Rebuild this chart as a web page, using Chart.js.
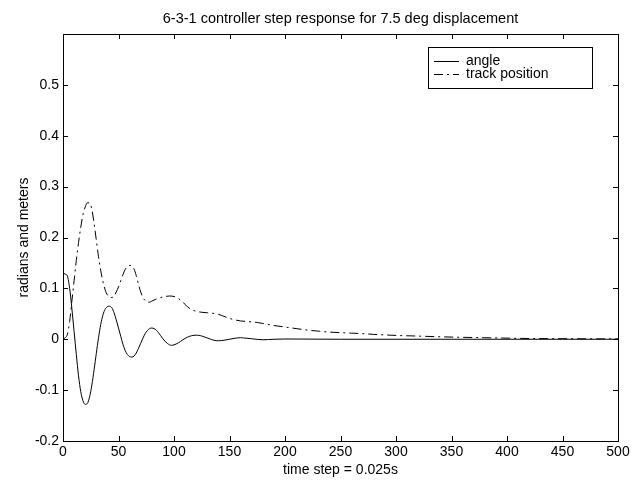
<!DOCTYPE html>
<html>
<head>
<meta charset="utf-8">
<script src="https://cdn.jsdelivr.net/npm/chart.js@4"></script>
<style>
html,body{margin:0;padding:0;background:#fff;}
#wrap{width:635px;height:480px;position:relative;}
</style>
</head>
<body>
<div id="wrap"><canvas id="c" width="635" height="480"></canvas></div>
<script>
const chartTitle = "6-3-1 controller step response for 7.5 deg displacement";
const xAxisLabel = "time step = 0.025s";
const yAxisLabel = "radians and meters";
const seriesLabels = ["angle", "track position"];

const angleSteps = [0,2,4,6,8,10,12,14,16,18,20,22,24,26,28,30,32,34,36,38,40,42,44,46,48,50,52,54,56,58,60,62,64,66,68,70,72,74,76,78,80,82,84,86,88,90,92,94,96,98,100,104,108,112,116,120,124,128,132,136,140,145,150,155,160,165,170,180,190,200,250,300,350,400,450,500];
const angleValues = [0.13,0.128,0.124,0.10,0.06,0.015,-0.03,-0.072,-0.103,-0.121,-0.128,-0.126,-0.113,-0.09,-0.06,-0.028,0.003,0.029,0.048,0.059,0.064,0.065,0.062,0.052,0.038,0.022,0.006,-0.01,-0.022,-0.03,-0.034,-0.035,-0.033,-0.027,-0.018,-0.008,0.002,0.011,0.017,0.021,0.022,0.021,0.018,0.013,0.007,0.001,-0.004,-0.008,-0.011,-0.012,-0.011,-0.007,-0.001,0.004,0.007,0.008,0.007,0.004,0.001,-0.002,-0.003,-0.002,0.0,0.002,0.003,0.002,0.001,-0.001,0.0,0.0005,0.0,0.0,0.0,0.0,0.0,0.0];

const trackSteps = [0,2,4,6,8,10,12,14,16,18,20,22,24,26,28,30,32,34,36,38,40,42,44,46,48,50,52,54,56,58,60,62,64,66,68,70,72,74,76,78,80,84,88,92,96,100,104,108,112,116,120,125,130,135,140,145,150,155,160,165,170,175,180,190,200,210,220,230,240,250,260,270,280,290,300,320,340,360,380,400,420,440,460,480,500];
const trackValues = [0.0,0.003,0.01,0.035,0.075,0.115,0.155,0.19,0.22,0.245,0.26,0.268,0.268,0.255,0.228,0.195,0.162,0.135,0.113,0.097,0.087,0.083,0.082,0.085,0.093,0.103,0.115,0.127,0.137,0.143,0.145,0.144,0.138,0.125,0.108,0.093,0.082,0.076,0.073,0.073,0.075,0.079,0.082,0.084,0.085,0.084,0.080,0.073,0.064,0.058,0.055,0.053,0.052,0.051,0.049,0.045,0.041,0.038,0.036,0.035,0.034,0.033,0.031,0.027,0.024,0.021,0.018,0.016,0.014,0.013,0.012,0.011,0.0095,0.0085,0.0075,0.0062,0.0048,0.0038,0.003,0.0022,0.0015,0.0012,0.001,0.0008,0.0006];

const xTickValues = [0,50,100,150,200,250,300,350,400,450,500];
const yTickValues = [-0.2,-0.1,0,0.1,0.2,0.3,0.4,0.5];

const FONT = "'Liberation Sans', Arial, sans-serif";

const angleData = angleSteps.map((x,i)=>({x:x,y:angleValues[i]}));
const trackData = trackSteps.map((x,i)=>({x:x,y:trackValues[i]}));

const framePlugin = {
  id:'frame',
  afterDraw(chart){
    const {ctx, chartArea:a, scales} = chart;
    ctx.save();
    ctx.strokeStyle = '#000';
    ctx.lineWidth = 1;
    ctx.strokeRect(Math.round(a.left)+0.5, Math.round(a.top)+0.5, Math.round(a.right-a.left), Math.round(a.bottom-a.top));
    const tl = 5;
    ctx.beginPath();
    xTickValues.forEach(v=>{
      const px = Math.round(scales.x.getPixelForValue(v))+0.5;
      ctx.moveTo(px, a.bottom); ctx.lineTo(px, a.bottom-tl);
      ctx.moveTo(px, a.top); ctx.lineTo(px, a.top+tl);
    });
    yTickValues.forEach(v=>{
      const py = Math.round(scales.y.getPixelForValue(v))+0.5;
      ctx.moveTo(a.left, py); ctx.lineTo(a.left+tl, py);
      ctx.moveTo(a.right, py); ctx.lineTo(a.right-tl, py);
    });
    ctx.stroke();
    ctx.fillStyle = '#000';
    ctx.font = '14.5px ' + FONT;
    ctx.textAlign = 'center';
    ctx.textBaseline = 'alphabetic';
    ctx.fillText(chartTitle, (a.left+a.right)/2, 23);
    const lx = 428, ly = 47, lw = 164, lh = 41;
    ctx.fillStyle = '#fff';
    ctx.fillRect(lx, ly, lw, lh);
    ctx.strokeStyle = '#000';
    ctx.strokeRect(lx+0.5, ly+0.5, lw, lh);
    ctx.font = '14px ' + FONT;
    chart.data.datasets.forEach((ds,i)=>{
      const yy = ly + 14 + i*13;
      ctx.beginPath();
      ctx.setLineDash(ds.borderDash || []);
      ctx.moveTo(lx+6, yy+0.5); ctx.lineTo(lx+31, yy+0.5);
      ctx.stroke();
      ctx.setLineDash([]);
      ctx.fillStyle = '#000';
      ctx.textAlign = 'left';
      ctx.textBaseline = 'middle';
      ctx.fillText(ds.label, lx+38, yy+0.5);
    });
    ctx.restore();
  }
};

new Chart(document.getElementById('c'), {
  type:'line',
  data:{
    datasets:[
      {label:seriesLabels[0], data:angleData, borderColor:'#000', borderWidth:1, pointRadius:0, tension:0.4, cubicInterpolationMode:'monotone', fill:false},
      {label:seriesLabels[1], data:trackData, borderColor:'#000', borderWidth:1, borderDash:[9,4,2,4], pointRadius:0, tension:0.4, cubicInterpolationMode:'monotone', fill:false}
    ]
  },
  options:{
    responsive:false,
    animation:false,
    layout:{padding:{top:34,right:17,left:0,bottom:0}},
    plugins:{legend:{display:false}, title:{display:false}, tooltip:{enabled:false}},
    scales:{
      x:{
        type:'linear', min:0, max:500,
        afterBuildTicks(s){ s.ticks = xTickValues.map(v=>({value:v})); },
        afterFit(s){ s.height = 39; },
        grid:{display:false, drawTicks:false},
        border:{display:false},
        ticks:{color:'#000', font:{family:FONT, size:14}, padding:3, maxRotation:0, autoSkip:false},
        title:{display:true, text:xAxisLabel, color:'#000', font:{family:FONT, size:14}, padding:{top:0,bottom:1}}
      },
      y:{
        type:'linear', min:-0.2, max:0.6,
        afterBuildTicks(s){ s.ticks = yTickValues.map(v=>({value:v})); },
        afterFit(s){ s.width = 63; },
        grid:{display:false, drawTicks:false},
        border:{display:false},
        ticks:{color:'#000', font:{family:FONT, size:14}, padding:4, callback:(v)=>String(Number(v.toFixed(1)))},
        title:{display:true, text:yAxisLabel, color:'#000', font:{family:FONT, size:14}, padding:{top:16,bottom:0}}
      }
    }
  },
  plugins:[framePlugin]
});
</script>
</body>
</html>
